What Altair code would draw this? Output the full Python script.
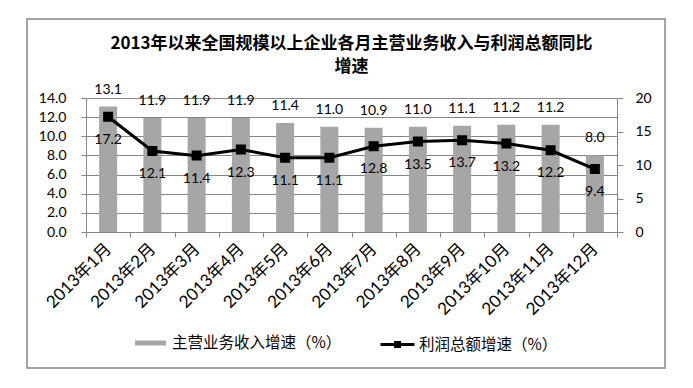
import altair as alt
import pandas as pd

months = ["2013年1月", "2013年2月", "2013年3月", "2013年4月", "2013年5月", "2013年6月",
          "2013年7月", "2013年8月", "2013年9月", "2013年10月", "2013年11月", "2013年12月"]
revenue = [13.1, 11.9, 11.9, 11.9, 11.4, 11.0, 10.9, 11.0, 11.1, 11.2, 11.2, 8.0]
profit = [17.2, 12.1, 11.4, 12.3, 11.1, 11.1, 12.8, 13.5, 13.7, 13.2, 12.2, 9.4]
bar_name = "主营业务收入增速（%）"
line_name = "利润总额增速（%）"
left_ticks = [0, 2, 4, 6, 8, 10, 12, 14]
right_ticks = [0, 5, 10, 15, 20]
title_lines = ["2013年以来全国规模以上企业各月主营业务收入与利润总额同比", "增速"]

df = pd.DataFrame({
    "month": months,
    "revenue": revenue,
    "profit": profit,
    "bar_series": [bar_name] * len(months),
    "line_series": [line_name] * len(months),
})

GRAY = "#868686"
BAR = "#A6A6A6"
NUM_FONT = "Lato"
CJK = "Noto Sans CJK SC"
MIX = "Lato, 'Noto Sans CJK SC'"

x_enc = alt.X(
    "month:N", sort=months, title=None,
    scale=alt.Scale(paddingInner=0, paddingOuter=0),
    axis=alt.Axis(labelAngle=-45, labelAlign="right", labelBaseline="middle",
                  labelFont=MIX, labelFontSize=17, labelColor="black",
                  tickBand="extent", tickSize=5, tickColor=GRAY, domainColor=GRAY,
                  labelPadding=9, grid=False, labelOverlap=False, labelLimit=300),
)

y_left = alt.Y(
    "revenue:Q", scale=alt.Scale(domain=[0, 14], nice=False),
    axis=alt.Axis(values=left_ticks, format=".1f", title=None, orient="left",
                  grid=True, gridColor=GRAY, domainColor=GRAY, tickColor=GRAY,
                  tickSize=5, labelPadding=15, labelFont=NUM_FONT,
                  labelFontSize=14, labelColor="black", labelOverlap=False),
)

y_right = alt.Y(
    "profit:Q", scale=alt.Scale(domain=[0, 20], nice=False),
    axis=alt.Axis(values=right_ticks, format="d", title=None, orient="right", grid=False,
                  domainColor=GRAY, tickColor=GRAY, tickSize=6, labelPadding=12,
                  labelFont=NUM_FONT, labelFontSize=14, labelColor="black",
                  labelOverlap=False),
)

base = alt.Chart(df)

border = alt.Chart(pd.DataFrame({"k": [0]})).mark_rect(
    fill="transparent", stroke=GRAY, strokeWidth=1.5
).encode(x=alt.value(-59), x2=alt.value(579), y=alt.value(-79), y2=alt.value(270))

bars = base.mark_bar(size=18).encode(
    x=x_enc,
    y=y_left,
    fill=alt.Fill("bar_series:N", scale=alt.Scale(range=[BAR]),
                  legend=alt.Legend(title=None, orient="none", legendX=49, legendY=229.5,
                                    symbolType="M-1,-0.16L1,-0.16L1,0.16L-1,0.16Z",
                                    symbolSize=961, symbolStrokeWidth=0,
                                    labelFont=CJK, labelFontSize=15.5, labelColor="black",
                                    labelOffset=6, labelLimit=400)),
)

bar_text = base.mark_text(dy=-17, font=NUM_FONT, fontSize=14, color="black").encode(
    x=x_enc,
    y=y_left,
    text=alt.Text("revenue:Q", format=".1f"),
)

line = base.mark_line(
    color="black", strokeWidth=3,
    point=alt.OverlayMarkDef(shape="square", size=64, filled=True, color="black"),
).encode(
    x=x_enc,
    y=y_right,
    stroke=alt.Stroke("line_series:N", scale=alt.Scale(range=["black"]),
                      legend=alt.Legend(title=None, orient="none", legendX=293, legendY=228,
                                        symbolType="M-1,0L1,0M-0.12,-0.12L0.12,-0.12L0.12,0.12L-0.12,0.12Z",
                                        symbolSize=1156, symbolStrokeWidth=3,
                                        symbolFillColor="black", symbolStrokeColor="black",
                                        labelFont=CJK, labelFontSize=15.5, labelColor="black",
                                        labelOffset=3, labelLimit=400)),
)

line_text = base.mark_text(dy=23, font=NUM_FONT, fontSize=14, color="black").encode(
    x=x_enc,
    y=y_right,
    text=alt.Text("profit:Q", format=".1f"),
)

left = alt.layer(border, bars, bar_text)
right = alt.layer(line, line_text)

chart = alt.layer(left, right).resolve_scale(y="independent").properties(
    width=531, height=134,
    title=alt.TitleParams(text=title_lines, font=CJK, fontSize=17, fontWeight="bold",
                          anchor="middle", frame="group", lineHeight=23, offset=-58,
                          color="black"),
    autosize=alt.AutoSizeParams(type="none"),
    padding={"left": 78, "top": 90, "right": 68, "bottom": 144},
).configure_view(stroke="transparent")

chart.save("out.html", embed_options={"renderer": "svg", "actions": False})
